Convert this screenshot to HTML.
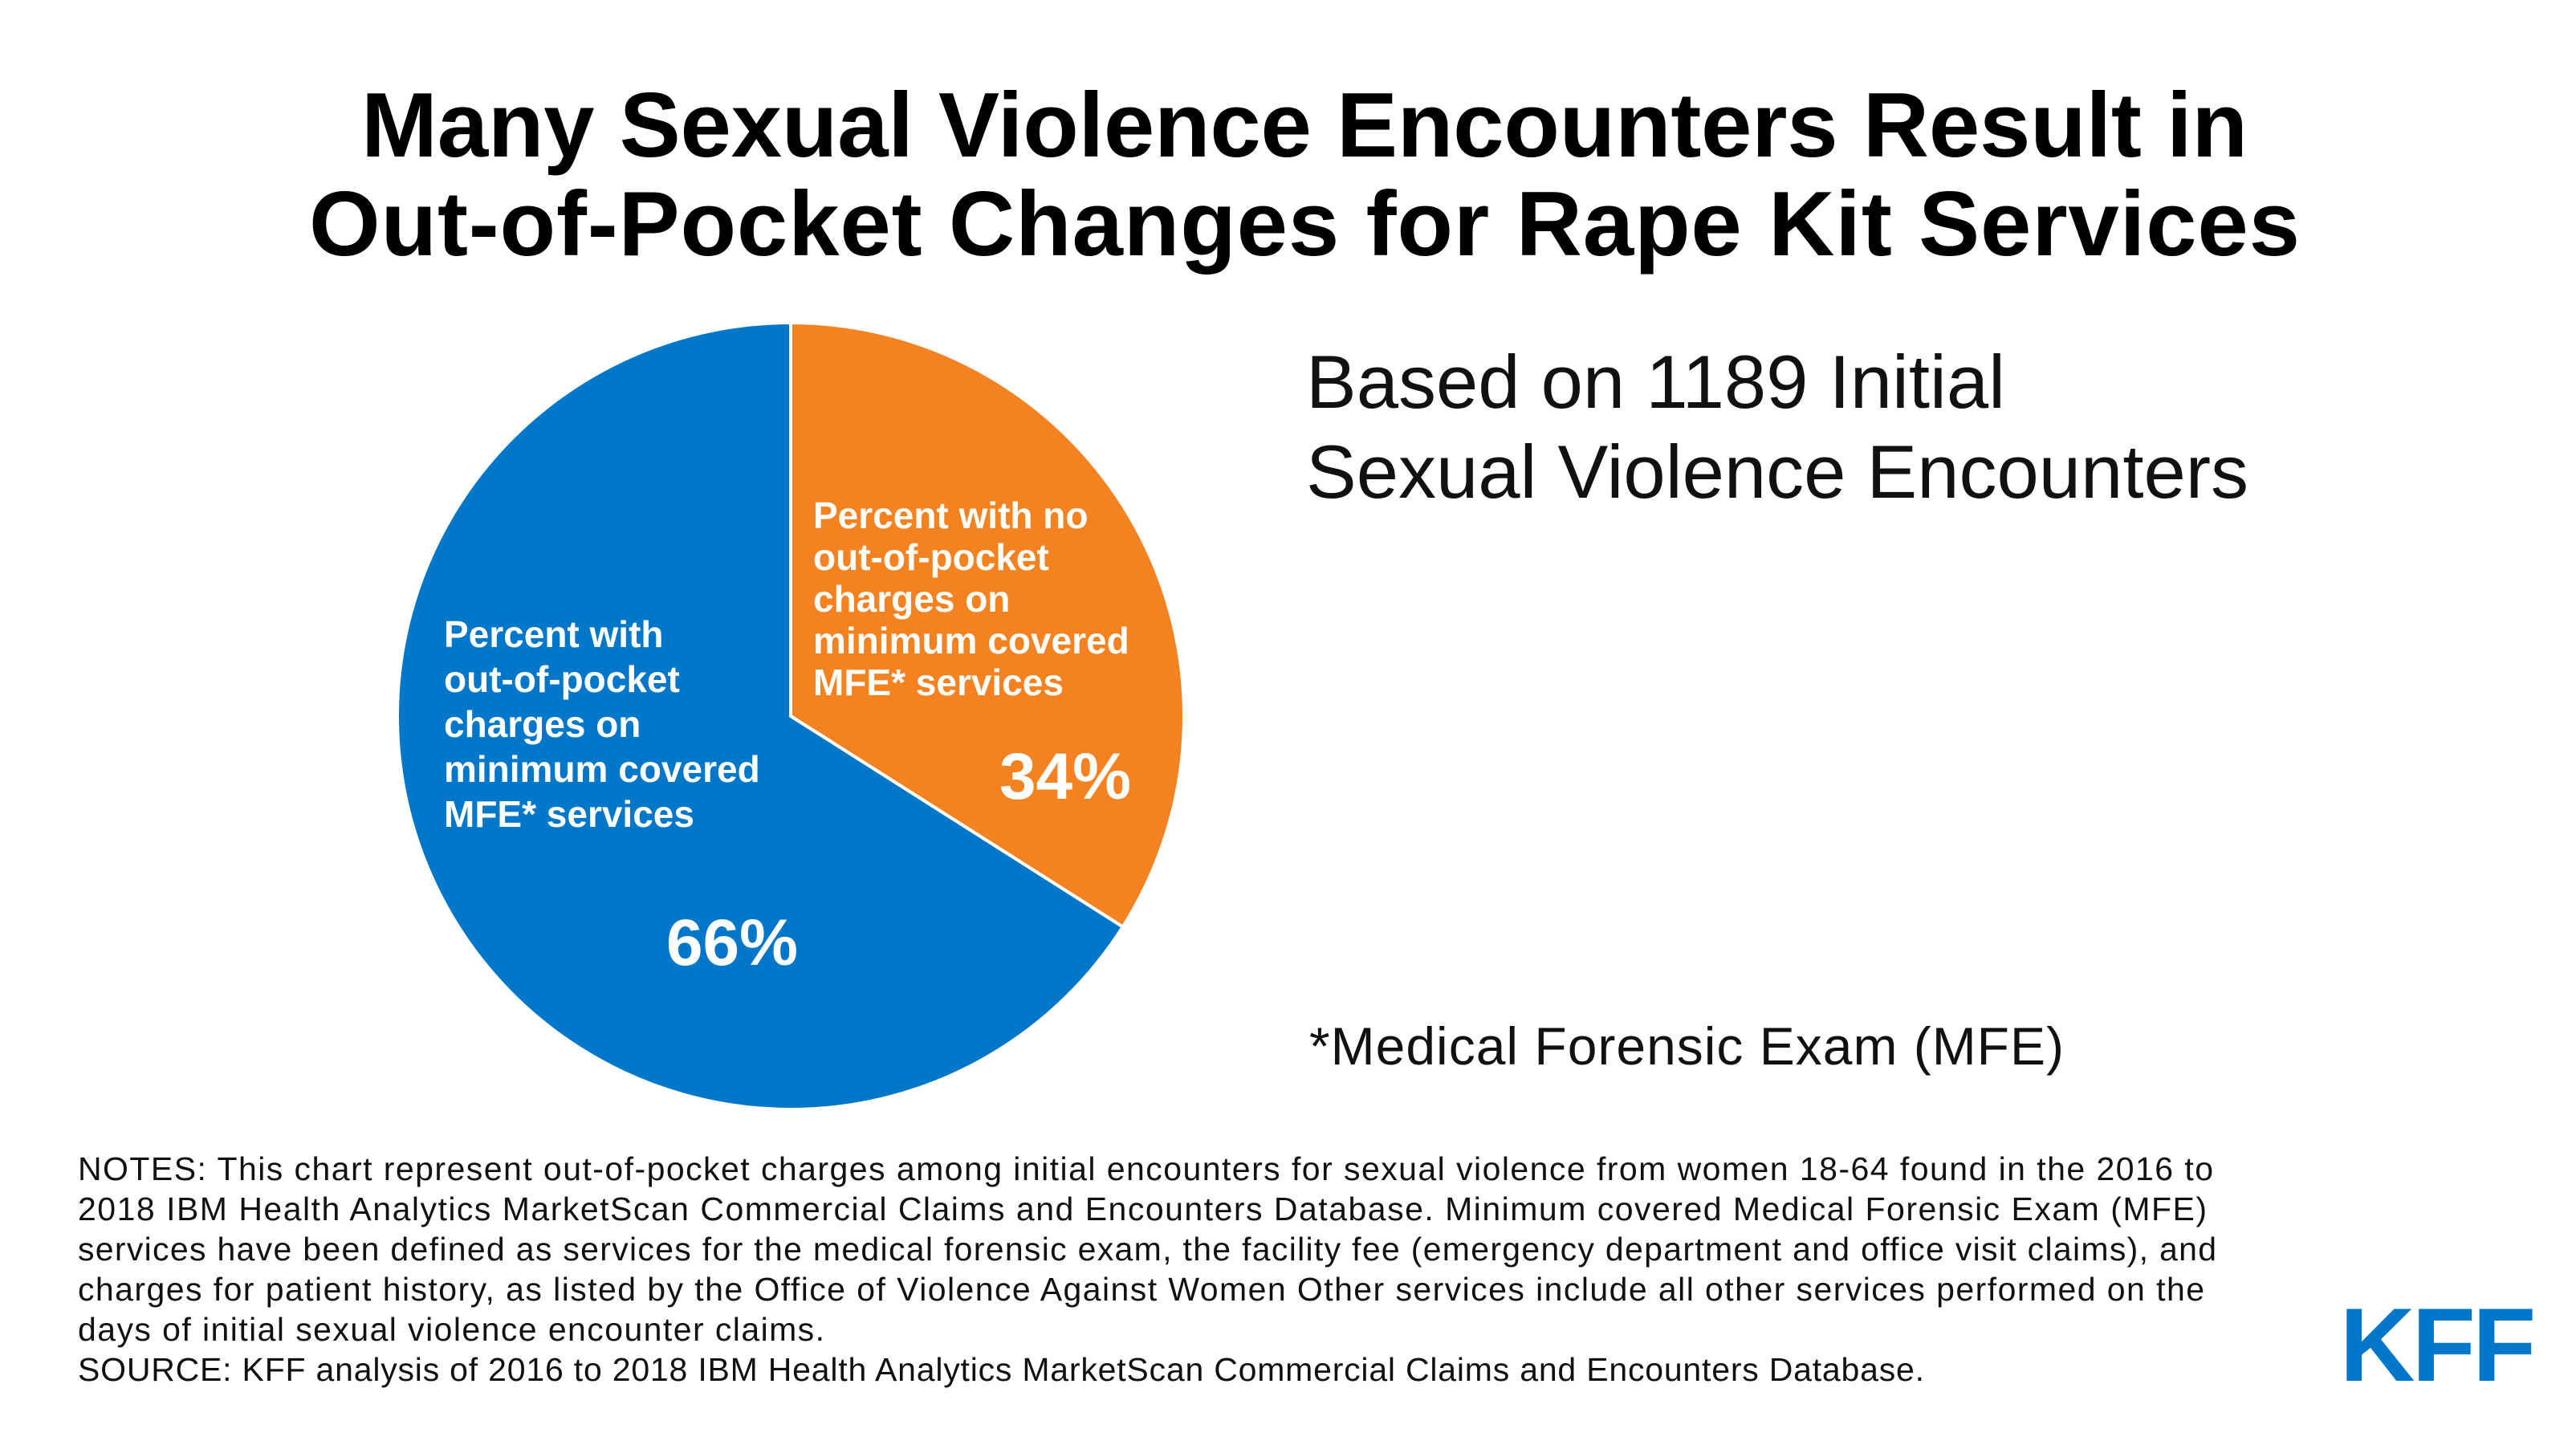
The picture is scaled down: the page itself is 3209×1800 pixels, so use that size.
<!DOCTYPE html>
<html><head><meta charset="utf-8"><style>
body{margin:0;width:3209px;height:1800px;background:#fff;overflow:hidden;font-family:"Liberation Sans",sans-serif}
svg{position:absolute;left:0;top:0}
</style></head><body>
<svg width="3209" height="1800">
<text x="1625" y="195" text-anchor="middle" font-size="114" font-weight="bold" textLength="2350">Many Sexual Violence Encounters Result in</text>
<text x="1625" y="318" text-anchor="middle" font-size="114" font-weight="bold" textLength="2480">Out-of-Pocket Changes for Rape Kit Services</text>
<g id="pie"></g>
<g fill="#fff" font-size="46" font-weight="bold">
<text x="1013" y="658">Percent with no</text><text x="1013" y="710">out-of-pocket</text><text x="1013" y="762">charges on</text><text x="1013" y="814">minimum covered</text><text x="1013" y="866">MFE* services</text>
<text x="1327" y="995" text-anchor="middle" font-size="82" font-weight="bold">34%</text>
</g>
<g fill="#fff" font-size="46" font-weight="bold">
<text x="553" y="806">Percent with</text><text x="553" y="862">out-of-pocket</text><text x="553" y="918">charges on</text><text x="553" y="974">minimum covered</text><text x="553" y="1030">MFE* services</text>
<text x="912" y="1202" text-anchor="middle" font-size="82" font-weight="bold">66%</text>
</g>
<text x="1627" y="508" font-size="94" fill="#111">Based on 1189 Initial</text>
<text x="1627" y="620" font-size="94" fill="#111">Sexual Violence Encounters</text>
<text x="1631" y="1326" font-size="66" fill="#111" textLength="940">*Medical Forensic Exam (MFE)</text>
<g font-size="41" fill="#111">
<text x="97" y="1470" textLength="2660">NOTES: This chart represent out-of-pocket charges among initial encounters for sexual violence from women 18-64 found in the 2016 to</text>
<text x="97" y="1520" textLength="2652">2018 IBM Health Analytics MarketScan Commercial Claims and Encounters Database. Minimum covered Medical Forensic Exam (MFE)</text>
<text x="97" y="1570" textLength="2664">services have been defined as services for the medical forensic exam, the facility fee (emergency department and office visit claims), and</text>
<text x="97" y="1620" textLength="2649">charges for patient history, as listed by the Office of Violence Against Women Other services include all other services performed on the</text>
<text x="97" y="1670" textLength="930">days of initial sexual violence encounter claims.</text>
<text x="97" y="1720" textLength="2300">SOURCE: KFF analysis of 2016 to 2018 IBM Health Analytics MarketScan Commercial Claims and Encounters Database.</text>
</g>
<text x="3035" y="1720" text-anchor="middle" font-size="130" font-weight="bold" fill="#0077c8" letter-spacing="-4">KFF</text>
</svg>
<script>
const categories=["No out-of-pocket charges","Out-of-pocket charges"];
const values=[34,66];
const colors=["#f58220","#0077c8"];
const cx=985,cy=892,r=490;
const g=document.getElementById('pie');
const total=values.reduce((a,b)=>a+b,0);
let start=0;
function pt(f){const a=f*2*Math.PI;return [cx+r*Math.sin(a),cy-r*Math.cos(a)];}
values.forEach((v,i)=>{
  const end=start+v/total;
  const [x1,y1]=pt(start),[x2,y2]=pt(end);
  const large=(end-start)>0.5?1:0;
  const p=document.createElementNS('http://www.w3.org/2000/svg','path');
  p.setAttribute('d',`M${cx},${cy}L${x1},${y1}A${r},${r} 0 ${large} 1 ${x2},${y2}Z`);
  p.setAttribute('fill',colors[i]);
  p.setAttribute('stroke','#fff');
  p.setAttribute('stroke-width','4');
  
  
  g.appendChild(p);
  start=end;
});
</script>
</body></html>
